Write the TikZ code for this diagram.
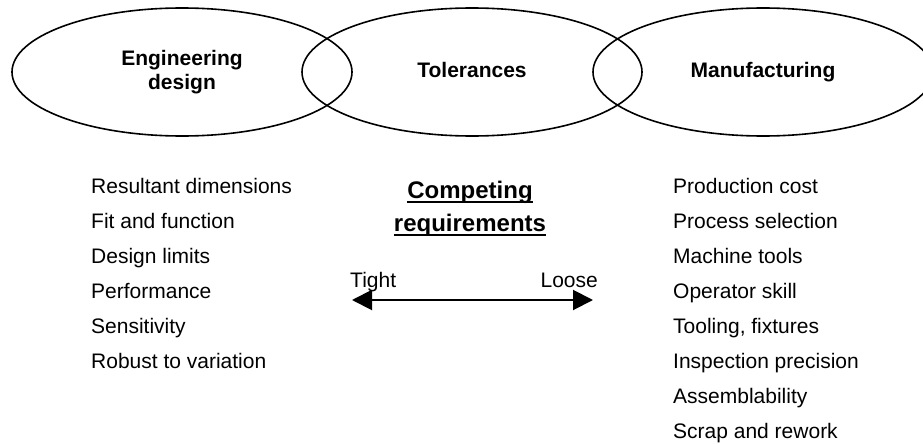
\documentclass[tikz,border=0pt]{standalone}
\usepackage{fontspec}
\setmainfont{Liberation Sans}
\usetikzlibrary{shapes.geometric,arrows.meta}
\begin{document}
\begin{tikzpicture}[x=1pt,y=-1pt,
  zone/.style={draw, ellipse, line width=1.6pt, minimum width=340pt,
    minimum height=128pt, inner sep=0pt, align=center,
    font=\fontsize{21}{24}\selectfont\bfseries},
  oneline/.style={text height=15pt, text depth=4.5pt},
  item/.style={anchor=base west, inner sep=0pt,
    font=\fontsize{21}{24}\selectfont},
  heading/.style={anchor=base, inner sep=0pt,
    font=\fontsize{24}{28}\selectfont\bfseries},
  headrule/.style={line width=1.8pt},
  scalearrow/.style={line width=2pt,
    {Triangle[length=20pt,width=20pt]}-{Triangle[length=20pt,width=20pt]}}]
\useasboundingbox (0,0) rectangle (923,444);
\clip (0,0) rectangle (923,444);

% the three overlapping domains
\node[zone] (design) at (182,72) {Engineering\\design};
\node[zone, oneline] (tol)   at (472,72) {Tolerances};
\node[zone, oneline] (manuf) at (763,72) {Manufacturing};

% design-side concerns
\node[item] (d1) at (91,193) {Resultant dimensions};
\node[item] (d2) at (91,228) {Fit and function};
\node[item] (d3) at (91,263) {Design limits};
\node[item] (d4) at (91,298) {Performance};
\node[item] (d5) at (91,333) {Sensitivity};
\node[item] (d6) at (91,368) {Robust to variation};

% manufacturing-side concerns
\node[item] (m1) at (673,193) {Production cost};
\node[item] (m2) at (673,228) {Process selection};
\node[item] (m3) at (673,263) {Machine tools};
\node[item] (m4) at (673,298) {Operator skill};
\node[item] (m5) at (673,333) {Tooling, fixtures};
\node[item] (m6) at (673,368) {Inspection precision};
\node[item] (m7) at (673,403) {Assemblability};
\node[item] (m8) at (673,438) {Scrap and rework};

% centre heading, underlined
\node[heading] (h1) at (470,198) {Competing};
\node[heading] (h2) at (470,231) {requirements};
\draw[headrule] ([yshift=-4pt]h1.base west) -- ([yshift=-4pt]h1.base east);
\draw[headrule] ([yshift=-4pt]h2.base west) -- ([yshift=-4pt]h2.base east);

% tight / loose scale
\node[item] (tight) at (350,287) {Tight};
\node[item, anchor=base east] (loose) at (598,287) {Loose};
\coordinate (lo) at (352,300);
\coordinate (hi) at (593,300);
\draw[scalearrow] (lo) -- (hi);
\end{tikzpicture}
\end{document}
